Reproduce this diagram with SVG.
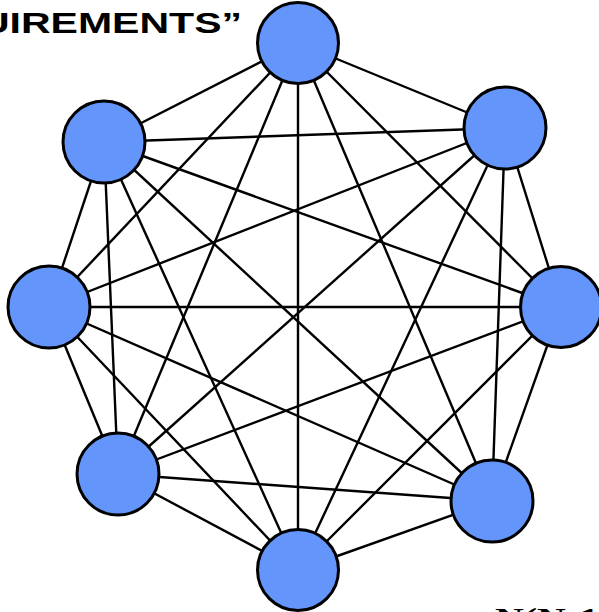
<svg xmlns="http://www.w3.org/2000/svg" width="599" height="612" viewBox="0 0 599 612">
  <style>
    .edge { stroke: #000; stroke-width: 2.4; fill: none; }
    .node { fill: #6395FB; stroke: #000; stroke-width: 3; }
    .title { font-family: "Liberation Sans", Arial, sans-serif; font-weight: bold; font-size: 29px; fill: #000; }
    .formula { font-family: "Liberation Serif", "Times New Roman", serif; font-weight: bold; font-size: 28px; fill: #000; }
  </style>
  <rect width="599" height="612" fill="#fff"/>
  <text class="title" x="-20" y="33" textLength="262" lengthAdjust="spacingAndGlyphs">UIREMENTS”</text>
  <!-- every pair of nodes is connected -->
  <g id="connectors">
    <!-- top (298,43) -->
    <line class="edge" x1="298" y1="43" x2="505" y2="128"/>
    <line class="edge" x1="298" y1="43" x2="561" y2="307"/>
    <line class="edge" x1="298" y1="43" x2="492" y2="501"/>
    <line class="edge" x1="298" y1="43" x2="298" y2="570"/>
    <line class="edge" x1="298" y1="43" x2="118" y2="474"/>
    <line class="edge" x1="298" y1="43" x2="49" y2="307"/>
    <line class="edge" x1="298" y1="43" x2="104" y2="142"/>
    <!-- upper right (505,128) -->
    <line class="edge" x1="505" y1="128" x2="561" y2="307"/>
    <line class="edge" x1="505" y1="128" x2="492" y2="501"/>
    <line class="edge" x1="505" y1="128" x2="298" y2="570"/>
    <line class="edge" x1="505" y1="128" x2="118" y2="474"/>
    <line class="edge" x1="505" y1="128" x2="49" y2="307"/>
    <line class="edge" x1="505" y1="128" x2="104" y2="142"/>
    <!-- right (561,307) -->
    <line class="edge" x1="561" y1="307" x2="492" y2="501"/>
    <line class="edge" x1="561" y1="307" x2="298" y2="570"/>
    <line class="edge" x1="561" y1="307" x2="118" y2="474"/>
    <line class="edge" x1="561" y1="307" x2="49" y2="307"/>
    <line class="edge" x1="561" y1="307" x2="104" y2="142"/>
    <!-- lower right (492,501) -->
    <line class="edge" x1="492" y1="501" x2="298" y2="570"/>
    <line class="edge" x1="492" y1="501" x2="118" y2="474"/>
    <line class="edge" x1="492" y1="501" x2="49" y2="307"/>
    <line class="edge" x1="492" y1="501" x2="104" y2="142"/>
    <!-- bottom (298,570) -->
    <line class="edge" x1="298" y1="570" x2="118" y2="474"/>
    <line class="edge" x1="298" y1="570" x2="49" y2="307"/>
    <line class="edge" x1="298" y1="570" x2="104" y2="142"/>
    <!-- lower left (118,474) -->
    <line class="edge" x1="118" y1="474" x2="49" y2="307"/>
    <line class="edge" x1="118" y1="474" x2="104" y2="142"/>
    <!-- left (49,307) -->
    <line class="edge" x1="49" y1="307" x2="104" y2="142"/>
  </g>
  <g id="node-top"><circle class="node" cx="298" cy="43" r="40.5"/></g>
  <g id="node-upper-right"><circle class="node" cx="505" cy="128" r="41"/></g>
  <g id="node-right"><circle class="node" cx="561" cy="307" r="40.5"/></g>
  <g id="node-lower-right"><circle class="node" cx="492" cy="501" r="41"/></g>
  <g id="node-bottom"><circle class="node" cx="298" cy="570" r="40.5"/></g>
  <g id="node-lower-left"><circle class="node" cx="118" cy="474" r="41"/></g>
  <g id="node-left"><circle class="node" cx="49" cy="307" r="41"/></g>
  <g id="node-upper-left"><circle class="node" cx="104" cy="142" r="41"/></g>
  <text class="formula" x="495" y="627" textLength="104" lengthAdjust="spacingAndGlyphs">N(N-1</text>
</svg>
